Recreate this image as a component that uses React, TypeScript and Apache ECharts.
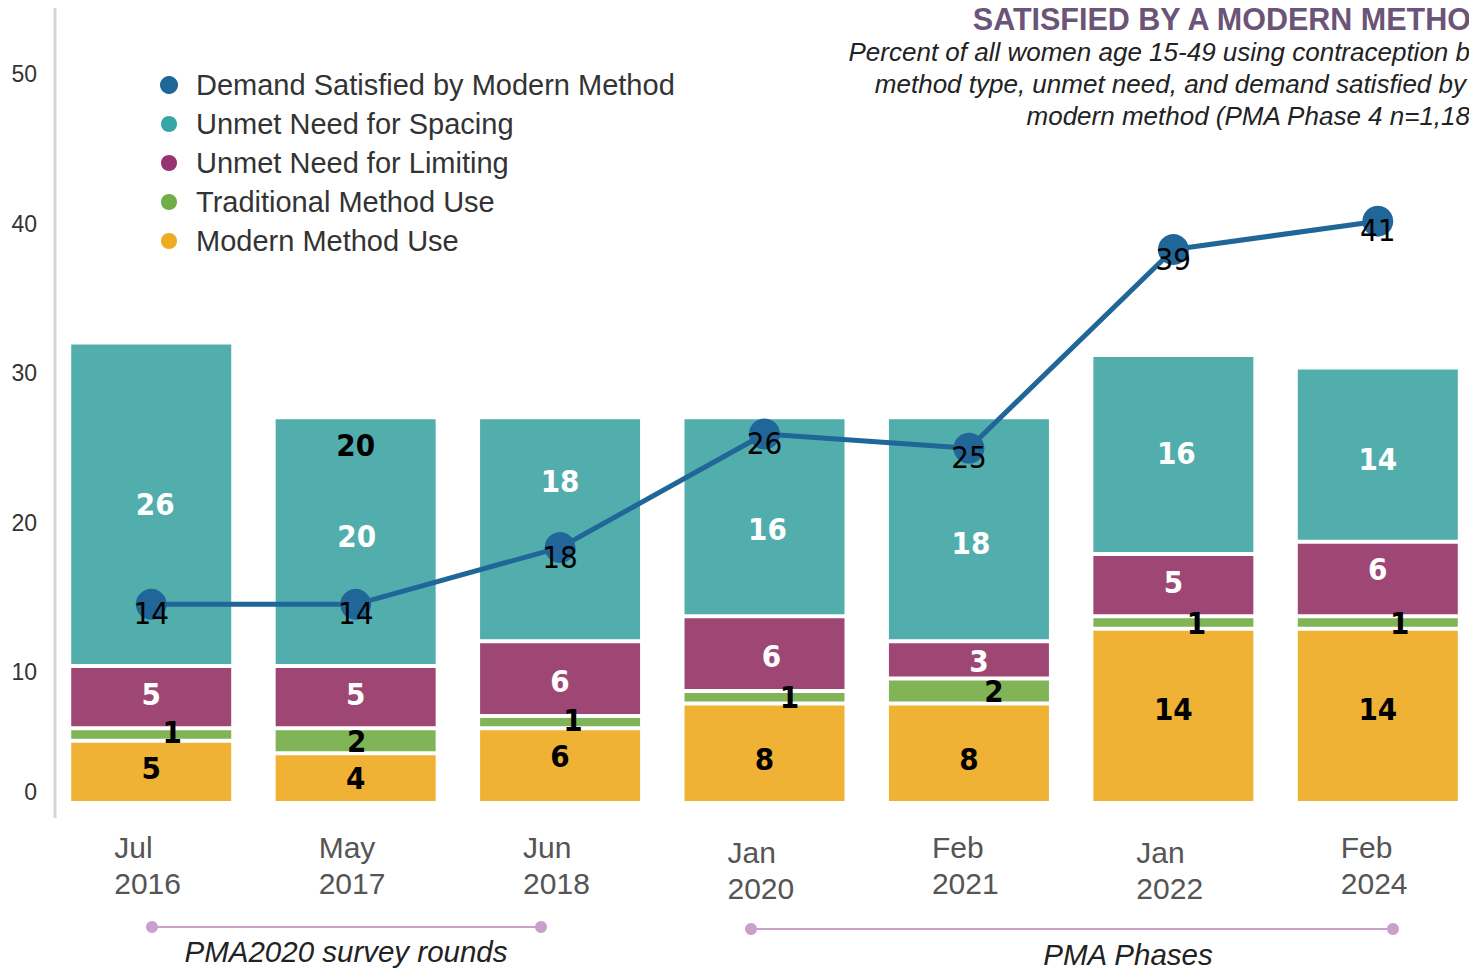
import React, { useEffect, useRef } from "react";
import * as echarts from "echarts";

const categories = ["Jul\n2016", "May\n2017", "Jun\n2018", "Jan\n2020", "Feb\n2021", "Jan\n2022", "Feb\n2024"];
const modernUse = [5, 4, 6, 8, 8, 14, 14];
const traditionalUse = [1, 2, 1, 1, 2, 1, 1];
const unmetLimiting = [5, 5, 6, 6, 3, 5, 6];
const unmetSpacing = [26, 20, 18, 16, 18, 16, 14];
const demandSatisfied = [14, 14, 18, 26, 25, 39, 41];
const yTickLabels = [0, 10, 20, 30, 40, 50];

const NARROW = "'Liberation Sans Narrow', 'DejaVu Sans Condensed', Roboto, sans-serif";
const SANS = "'Liberation Sans', Arial, sans-serif";

// label nudges (style only)
const modernOff = [[0, -4], [0, 0], [0, -10], [0, 6], [0, 6], [0, -7], [0, -7]];
const tradOff = [[21, -3], [1, 0], [13, -2], [25, 0], [25, 0], [23, 0], [22, 0]];
const limitOff = [[0, -3], [0, -3], [0, 2], [7, 2], [10, 1], [0, -3], [0, -10]];
const spacingOff = [[4, 0], [1, -6], [0, -48], [3, 12], [2, 14], [3, -2], [0, 4]];

const withOffsets = (vals: number[], offs: number[][]) =>
  vals.map((v, i) => ({ value: v, label: { offset: offs[i] } }));

export default function App() {
  const ref = useRef<HTMLDivElement>(null);
  useEffect(() => {
    if (!ref.current) return;
    const chart = echarts.init(ref.current, null, { renderer: "svg" });
    const totals = categories.map(
      (_, i) => modernUse[i] + traditionalUse[i] + unmetLimiting[i] + unmetSpacing[i]
    );
    const barLabel = (color: string) => ({
      show: true,
      position: "inside",
      color,
      fontSize: 31,
      fontWeight: "bold",
      fontFamily: NARROW,
    });
    const barStyle = (color: string) => ({ color, borderColor: "#fff", borderWidth: 2 });
    const option: any = {
      animation: false,
      backgroundColor: "#fff",
      grid: [
        { left: 49, top: 75, width: 1431, height: 728 },
        { left: 55, top: 74, width: 10, height: 748 },
      ],
      xAxis: [
        {
          type: "category",
          gridIndex: 0,
          data: categories,
          axisLine: { show: false },
          axisTick: { show: false },
          axisLabel: {
            margin: 26,
            formatter: (v: string) => (v.startsWith("Jan") ? `{j|${v}}` : `{a|${v}}`),
            rich: {
              a: { width: 74, align: "left", fontSize: 30, lineHeight: 36, color: "#555", fontFamily: SANS },
              j: { width: 74, align: "left", fontSize: 30, lineHeight: 36, color: "#555", fontFamily: SANS, padding: [10, 0, 0, 0] },
            },
          },
        },
        { type: "category", gridIndex: 1, show: false, data: ["x"] },
      ],
      yAxis: [
        {
          type: "value",
          gridIndex: 1,
          min: 0,
          max: 50,
          interval: 10,
          axisLine: { show: false },
          axisTick: { show: false },
          splitLine: { show: false },
          axisLabel: {
            margin: 18,
            formatter: (v: number) => (yTickLabels.includes(v) ? (v === 0 ? `{z|${v}}` : `{n|${v}}`) : ""),
            rich: {
              n: { fontSize: 23, color: "#333", fontFamily: SANS },
              z: { fontSize: 23, color: "#333", fontFamily: SANS, padding: [0, 0, 60, 0] },
            },
          },
        },
        { type: "value", gridIndex: 0, min: 0, max: 58.5, show: false, splitLine: { show: false } },
        { type: "value", gridIndex: 0, min: 0, max: 51.3, show: false, splitLine: { show: false } },
      ],
      legend: {
        orient: "vertical",
        left: 154,
        top: 64,
        itemWidth: 18,
        itemHeight: 18,
        itemGap: 7,
        icon: "circle",
        textStyle: { fontSize: 29, color: "#333", fontFamily: SANS, lineHeight: 32, padding: [0, 0, 0, 13] },
        data: [
          { name: "Demand Satisfied by Modern Method", itemStyle: { color: "#1F6699" } },
          { name: "Unmet Need for Spacing", itemStyle: { color: "#36A7A5" } },
          { name: "Unmet Need for Limiting", itemStyle: { color: "#963371" } },
          { name: "Traditional Method Use", itemStyle: { color: "#72AE48" } },
          { name: "Modern Method Use", itemStyle: { color: "#EEAC22" } },
        ],
      },
      series: [
        {
          name: "Modern Method Use",
          type: "bar",
          stack: "s",
          xAxisIndex: 0,
          yAxisIndex: 1,
          barWidth: 164,
          itemStyle: barStyle("#EFB234"),
          label: barLabel("#000"),
          data: withOffsets(modernUse, modernOff),
        },
        {
          name: "Traditional Method Use",
          type: "bar",
          stack: "s",
          xAxisIndex: 0,
          yAxisIndex: 1,
          barWidth: 164,
          itemStyle: barStyle("#80B456"),
          label: barLabel("#000"),
          data: withOffsets(traditionalUse, tradOff),
        },
        {
          name: "Unmet Need for Limiting",
          type: "bar",
          stack: "s",
          xAxisIndex: 0,
          yAxisIndex: 1,
          barWidth: 164,
          itemStyle: barStyle("#9E4775"),
          label: barLabel("#fff"),
          data: withOffsets(unmetLimiting, limitOff),
        },
        {
          name: "Unmet Need for Spacing",
          type: "bar",
          stack: "s",
          xAxisIndex: 0,
          yAxisIndex: 1,
          barWidth: 164,
          itemStyle: barStyle("#52AEAC"),
          label: barLabel("#fff"),
          data: withOffsets(unmetSpacing, spacingOff),
          markPoint: {
            symbol: "circle",
            symbolSize: 0,
            data: [
              {
                coord: [1, totals[1]],
                label: {
                  show: true,
                  formatter: String(unmetSpacing[1]),
                  color: "#000",
                  fontSize: 31,
                  fontWeight: "bold",
                  fontFamily: NARROW,
                  offset: [0, 28],
                },
              },
            ],
          },
        },
        {
          name: "Demand Satisfied by Modern Method",
          type: "line",
          xAxisIndex: 0,
          yAxisIndex: 2,
          data: demandSatisfied,
          symbol: "circle",
          symbolSize: 31,
          lineStyle: { color: "#216699", width: 5 },
          itemStyle: { color: "#216699" },
          z: 5,
          label: {
            show: true,
            position: "inside",
            offset: [0, 9],
            color: "#000",
            fontSize: 31,
            fontFamily: NARROW,
          },
        },
      ],
      graphic: [
        { type: "line", shape: { x1: 55, y1: 8, x2: 55, y2: 818 }, style: { stroke: "#d6d6d6", lineWidth: 3 } },
        {
          type: "text",
          x: 1471,
          y: 19,
          style: { text: "SATISFIED BY A MODERN METHO", fontSize: 30.5, fontWeight: "bold", fontFamily: SANS, fill: "#6B5478", textAlign: "right", textVerticalAlign: "middle" },
        },
        {
          type: "text",
          x: 1470,
          y: 52,
          style: { text: "Percent of all women age 15-49 using contraception b", fontSize: 26, fontStyle: "italic", fontFamily: SANS, fill: "#222", textAlign: "right", textVerticalAlign: "middle" },
        },
        {
          type: "text",
          x: 1466,
          y: 84,
          style: { text: "method type, unmet need, and demand satisfied by", fontSize: 26, fontStyle: "italic", fontFamily: SANS, fill: "#222", textAlign: "right", textVerticalAlign: "middle" },
        },
        {
          type: "text",
          x: 1470,
          y: 116,
          style: { text: "modern method (PMA Phase 4 n=1,18", fontSize: 26, fontStyle: "italic", fontFamily: SANS, fill: "#222", textAlign: "right", textVerticalAlign: "middle" },
        },
        { type: "line", shape: { x1: 152, y1: 927, x2: 541, y2: 927 }, style: { stroke: "#C9A0CC", lineWidth: 2 } },
        { type: "circle", shape: { cx: 152, cy: 927, r: 6 }, style: { fill: "#C9A0CC" } },
        { type: "circle", shape: { cx: 541, cy: 927, r: 6 }, style: { fill: "#C9A0CC" } },
        {
          type: "text",
          x: 346,
          y: 951,
          style: { text: "PMA2020 survey rounds", fontSize: 29.5, fontStyle: "italic", fontFamily: SANS, fill: "#222", textAlign: "center", textVerticalAlign: "middle" },
        },
        { type: "line", shape: { x1: 751, y1: 929, x2: 1393, y2: 929 }, style: { stroke: "#C9A0CC", lineWidth: 2 } },
        { type: "circle", shape: { cx: 751, cy: 929, r: 6 }, style: { fill: "#C9A0CC" } },
        { type: "circle", shape: { cx: 1393, cy: 929, r: 6 }, style: { fill: "#C9A0CC" } },
        {
          type: "text",
          x: 1128,
          y: 954,
          style: { text: "PMA Phases", fontSize: 29.5, fontStyle: "italic", fontFamily: SANS, fill: "#222", textAlign: "center", textVerticalAlign: "middle" },
        },
      ],
    };
    chart.setOption(option);
    return () => chart.dispose();
  }, []);
  return (
    <div style={{ position: "absolute", left: 0, top: 0, width: 1469, height: 971, overflow: "hidden" }}>
      <div ref={ref} style={{ width: 1490, height: 971 }} />
    </div>
  );
}
